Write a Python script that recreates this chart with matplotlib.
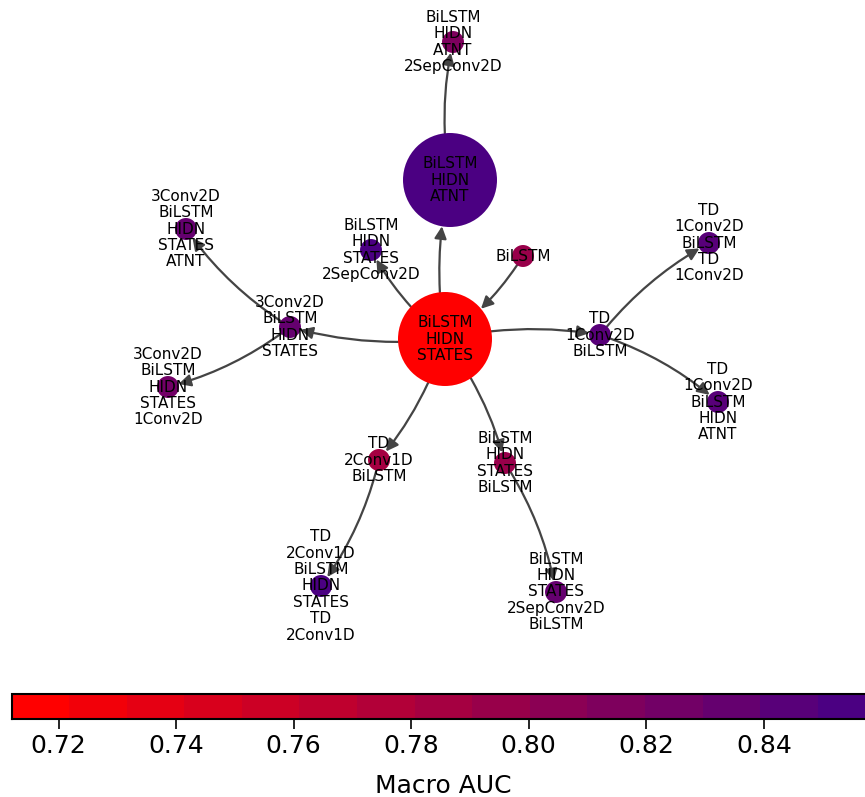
import matplotlib
matplotlib.use("Agg")
import matplotlib.pyplot as plt
from matplotlib.colors import LinearSegmentedColormap, Normalize
from matplotlib.patches import FancyArrowPatch
from matplotlib.cm import ScalarMappable
import numpy as np

# Architectures explored and their macro AUC
models = [
    "BiLSTM HIDN STATES",
    "BiLSTM HIDN ATNT",
    "BiLSTM HIDN ATNT 2SepConv2D",
    "BiLSTM",
    "BiLSTM HIDN STATES 2SepConv2D",
    "3Conv2D BiLSTM HIDN STATES",
    "3Conv2D BiLSTM HIDN STATES ATNT",
    "3Conv2D BiLSTM HIDN STATES 1Conv2D",
    "TD 1Conv2D BiLSTM",
    "TD 1Conv2D BiLSTM TD 1Conv2D",
    "TD 1Conv2D BiLSTM HIDN ATNT",
    "TD 2Conv1D BiLSTM",
    "TD 2Conv1D BiLSTM HIDN STATES TD 2Conv1D",
    "BiLSTM HIDN STATES BiLSTM",
    "BiLSTM HIDN STATES 2SepConv2D BiLSTM",
]
macro_auc = [0.712, 0.859, 0.818, 0.795, 0.850, 0.832, 0.830, 0.825,
             0.847, 0.843, 0.847, 0.790, 0.856, 0.800, 0.830]

# Parent -> child refinements
edges = [
    ("BiLSTM", "BiLSTM HIDN STATES"),
    ("BiLSTM HIDN STATES", "BiLSTM HIDN ATNT"),
    ("BiLSTM HIDN ATNT", "BiLSTM HIDN ATNT 2SepConv2D"),
    ("BiLSTM HIDN STATES", "BiLSTM HIDN STATES 2SepConv2D"),
    ("BiLSTM HIDN STATES", "3Conv2D BiLSTM HIDN STATES"),
    ("3Conv2D BiLSTM HIDN STATES", "3Conv2D BiLSTM HIDN STATES ATNT"),
    ("3Conv2D BiLSTM HIDN STATES", "3Conv2D BiLSTM HIDN STATES 1Conv2D"),
    ("BiLSTM HIDN STATES", "TD 1Conv2D BiLSTM"),
    ("TD 1Conv2D BiLSTM", "TD 1Conv2D BiLSTM TD 1Conv2D"),
    ("TD 1Conv2D BiLSTM", "TD 1Conv2D BiLSTM HIDN ATNT"),
    ("BiLSTM HIDN STATES", "TD 2Conv1D BiLSTM"),
    ("TD 2Conv1D BiLSTM", "TD 2Conv1D BiLSTM HIDN STATES TD 2Conv1D"),
    ("BiLSTM HIDN STATES", "BiLSTM HIDN STATES BiLSTM"),
    ("BiLSTM HIDN STATES BiLSTM", "BiLSTM HIDN STATES 2SepConv2D BiLSTM"),
]

# Layout (canvas units) and marker areas
layout = {
    "BiLSTM HIDN STATES": (445, 339),
    "BiLSTM HIDN ATNT": (450, 180),
    "BiLSTM HIDN ATNT 2SepConv2D": (453, 42),
    "BiLSTM": (523, 256),
    "BiLSTM HIDN STATES 2SepConv2D": (371, 250),
    "3Conv2D BiLSTM HIDN STATES": (290, 327),
    "3Conv2D BiLSTM HIDN STATES ATNT": (186, 229),
    "3Conv2D BiLSTM HIDN STATES 1Conv2D": (168, 387),
    "TD 1Conv2D BiLSTM": (600, 335),
    "TD 1Conv2D BiLSTM TD 1Conv2D": (709, 243),
    "TD 1Conv2D BiLSTM HIDN ATNT": (718, 402),
    "TD 2Conv1D BiLSTM": (379, 460),
    "TD 2Conv1D BiLSTM HIDN STATES TD 2Conv1D": (321, 586),
    "BiLSTM HIDN STATES BiLSTM": (505, 463),
    "BiLSTM HIDN STATES 2SepConv2D BiLSTM": (556, 592),
}
big = {"BiLSTM HIDN STATES", "BiLSTM HIDN ATNT"}
size_big, size_small = 4580, 250

W, H = 865, 797
fig = plt.figure(figsize=(W / 100, H / 100), dpi=100)
ax = fig.add_axes([0, 0, 1, 1])
ax.set_xlim(0, W)
ax.set_ylim(H, 0)
ax.axis("off")

cmap = LinearSegmentedColormap.from_list("red_indigo", ["red", "indigo"], N=15)
norm = Normalize(vmin=min(macro_auc), vmax=max(macro_auc))
auc = dict(zip(models, macro_auc))

def radius_pt(name):
    s = size_big if name in big else size_small
    return np.sqrt(s) / 2

# Edges
for u, v in edges:
    p1, p2 = layout[u], layout[v]
    arr = FancyArrowPatch(p1, p2, arrowstyle="-|>", mutation_scale=18,
                          connectionstyle="arc3,rad=-0.1", color="#444444",
                          linewidth=1.6,
                          shrinkA=radius_pt(u), shrinkB=radius_pt(v),
                          zorder=1)
    ax.add_patch(arr)

# Nodes
xs = [layout[m][0] for m in models]
ys = [layout[m][1] for m in models]
sizes = [size_big if m in big else size_small for m in models]
ax.scatter(xs, ys, s=sizes, c=[cmap(norm(auc[m])) for m in models],
           linewidths=0, zorder=2)

# Labels
for m in models:
    x, y = layout[m]
    ax.text(x, y, m.replace(" ", "\n"), ha="center", va="center",
            fontsize=11, linespacing=1.12, zorder=3)

# Colorbar
cax = fig.add_axes([11.5 / W, (H - 719) / H, 864 / W, 25 / H])
cb = fig.colorbar(ScalarMappable(norm=norm, cmap=cmap), cax=cax,
                  orientation="horizontal")
cb.set_ticks([0.72, 0.74, 0.76, 0.78, 0.80, 0.82, 0.84])
cb.ax.tick_params(labelsize=18, length=7, width=1.2)
cb.set_label("Macro AUC", fontsize=18, labelpad=12)
cb.outline.set_linewidth(1.5)

fig.savefig("out.png", dpi=100)
